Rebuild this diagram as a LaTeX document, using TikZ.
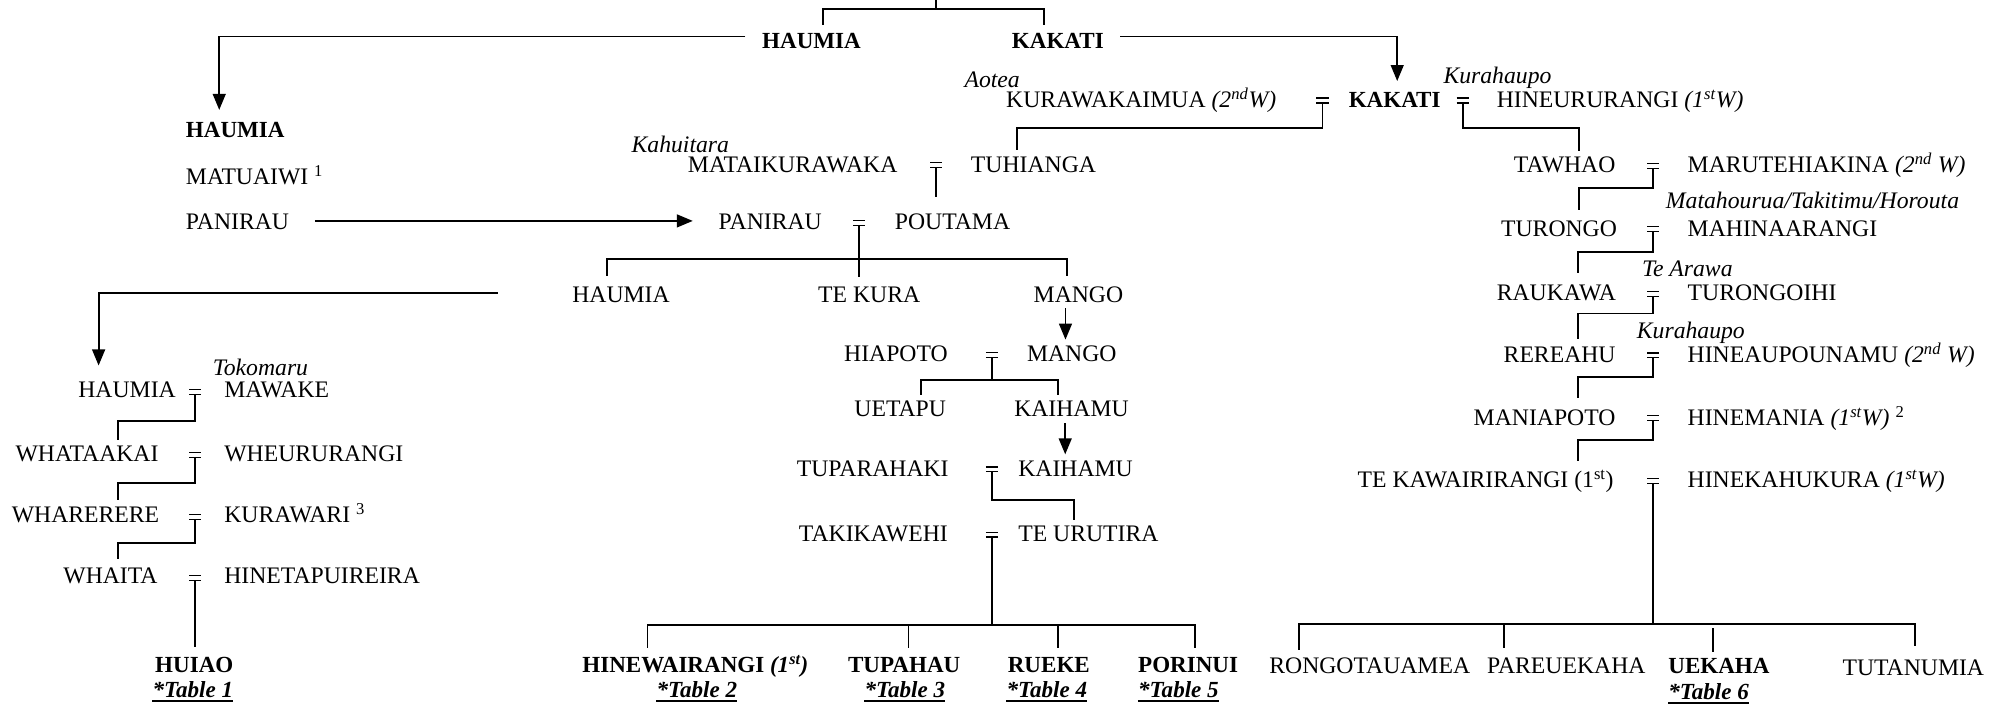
\documentclass[tikz,border=0pt]{standalone}
\usepackage{fontspec}
\setmainfont{Liberation Serif}
\usetikzlibrary{arrows.meta,calc}
\newcommand{\fs}{\fontsize{18.5}{18.5}\selectfont}
\newcommand{\fb}{\fontsize{18}{18}\selectfont}
\newcommand{\eqbar}[1]{\draw[line width=1pt] (#1.north west) -- (#1.north east) (#1.south west) -- (#1.south east);}
\newcommand{\ulin}[1]{\draw[line width=1.6pt] ([yshift=-2.5pt]#1.south west) -- ([yshift=-2.5pt]#1.south east);}
\begin{document}
\begin{tikzpicture}[x=1pt,y=-1pt,
  nm/.style={font=\fs, inner xsep=0pt, inner ysep=0pt, text height=12pt, text depth=0pt, anchor=west},
  bnm/.style={nm, font=\fb\bfseries},
  inm/.style={nm, font=\fs\itshape},
  tbl/.style={nm, font=\fb\bfseries\itshape},
  ln/.style={line width=1.5pt},
  arr/.style={line width=1.5pt, -{Triangle[length=12.5pt,width=10pt]}},
  eqs/.style={inner sep=0pt, minimum width=9pt, minimum height=3.4pt, text height=0pt, text depth=0pt}]
\useasboundingbox (0,0) rectangle (1568,550);
% ---------- top ----------
\node[bnm] (hT) at (595,31.5) {HAUMIA};
\node[bnm] (kT) at (790,31.5) {KAKATI};
\coordinate (tp) at (731,0);
% ---------- left column ----------
\node[bnm] (hL) at (145,101) {HAUMIA};
\node[nm] (matu) at (145,138) {MATUAIWI \textsuperscript{1}};
\node[nm] (panL) at (145,173.5) {PANIRAU};
% ---------- Kakati row ----------
\node[inm] (aotea) at (753,62.5) {Aotea};
\node[nm] (kura) at (785.5,78) {KURAWAKAIMUA \textit{(2\textsuperscript{nd}W)}};
\node[eqs] (e1) at (1032.7,78.5) {};
\node[bnm] (k2) at (1053,78) {KAKATI};
\node[eqs] (e2) at (1142.2,78.5) {};
\node[inm] (kurah1) at (1127,59.5) {Kurahaupo};
\node[nm] (hineu) at (1168.6,78) {HINEURURANGI \textit{(1\textsuperscript{st}W)}};
% ---------- middle ----------
\node[inm] (kahu) at (493,113) {Kahuitara};
\node[nm] (mata) at (537,128.7) {MATAIKURAWAKA};
\node[eqs] (e3) at (731,129) {};
\node[nm] (tuh) at (758,128.7) {TUHIANGA};
\node[nm] (panM) at (561,173.5) {PANIRAU};
\node[eqs] (e4) at (671,174) {};
\node[nm] (pout) at (698.6,173.5) {POUTAMA};
\node[nm] (hM) at (446.7,230.4) {HAUMIA};
\node[nm] (tekura) at (638.7,230.4) {TE KURA};
\node[nm] (mangoA) at (807,230.4) {MANGO};
\coordinate (lstart) at (388.5,229);
\node[nm] (hiap) at (659,276.4) {HIAPOTO};
\node[eqs] (e5) at (774.6,277) {};
\node[nm] (mangoB) at (801.8,276.4) {MANGO};
\node[nm] (uet) at (667,319.4) {UETAPU};
\node[nm] (kaiA) at (791.8,319.4) {KAIHAMU};
\node[nm] (tup) at (622,366) {TUPARAHAKI};
\node[eqs] (e6) at (774.6,366.5) {};
\node[nm] (kaiB) at (795,366) {KAIHAMU};
\node[nm] (taki) at (623.7,417) {TAKIKAWEHI};
\node[eqs] (e7) at (774.6,417.5) {};
\node[nm] (teur) at (795,417) {TE URUTIRA};
\node[bnm] (hw) at (454.6,519.3) {HINEWAIRANGI \textit{(1\textsuperscript{st})}};
\node[tbl] (t2) at (512.5,539) {*Table 2};
\node[bnm] (tupahau) at (662,519.3) {TUPAHAU};
\node[tbl] (t3) at (675,539) {*Table 3};
\node[bnm] (rueke) at (786.8,519.3) {RUEKE};
\node[tbl] (t4) at (785.8,539) {*Table 4};
\node[bnm] (porinui) at (888.6,519.3) {PORINUI};
\node[tbl] (t5) at (888.6,539) {*Table 5};
% ---------- lower left ----------
\node[inm] (toko) at (166,287.6) {Tokomaru};
\node[nm] (hLL) at (61,304.6) {HAUMIA};
\node[eqs] (e8) at (152.4,306) {};
\node[nm] (mawake) at (175,304.6) {MAWAKE};
\node[nm] (whataa) at (12,354) {WHATAAKAI};
\node[eqs] (e9) at (152.4,355.5) {};
\node[nm] (wheu) at (175,354) {WHEURURANGI};
\node[nm] (whare) at (9,402) {WHARERERE};
\node[eqs] (e10) at (152.4,403.5) {};
\node[nm] (kurawari) at (175,402) {KURAWARI \textsuperscript{3}};
\node[nm] (whaita) at (49.3,450) {WHAITA};
\node[eqs] (e11) at (152.4,451.5) {};
\node[nm] (hinet) at (175,450) {HINETAPUIREIRA};
\node[bnm] (huiao) at (121,519.3) {HUIAO};
\node[tbl] (t1) at (119,539) {*Table 1};
% ---------- right ----------
\node[nm] (taw) at (1182,129) {TAWHAO};
\node[eqs] (e12) at (1291,129.5) {};
\node[nm] (maru) at (1317.7,129) {MARUTEHIAKINA \textit{(2\textsuperscript{nd} W)}};
\node[inm] (mata2) at (1300.7,157) {Matahourua/Takitimu/Horouta};
\node[nm] (turongo) at (1172,178.5) {TURONGO};
\node[eqs] (e13) at (1291,179) {};
\node[nm] (mahin) at (1317.7,178.5) {MAHINAARANGI};
\node[inm] (tearawa) at (1282,210) {Te Arawa};
\node[nm] (raukawa) at (1168.6,229) {RAUKAWA};
\node[eqs] (e14) at (1291,229.5) {};
\node[nm] (turoi) at (1317.7,229) {TURONGOIHI};
\node[inm] (kurah2) at (1278,258) {Kurahaupo};
\node[nm] (rereahu) at (1174,277) {REREAHU};
\node[eqs] (e15) at (1291,277.5) {};
\node[nm] (hineau) at (1317.7,277) {HINEAUPOUNAMU \textit{(2\textsuperscript{nd} W)}};
\node[nm] (mania) at (1150.6,326) {MANIAPOTO};
\node[eqs] (e16) at (1291,326.5) {};
\node[nm] (hinem) at (1317.7,326) {HINEMANIA \textit{(1\textsuperscript{st}W)} \textsuperscript{2}};
\node[nm] (tekaw) at (1060,375) {TE KAWAIRIRANGI (1\textsuperscript{st})};
\node[eqs] (e17) at (1291,375.5) {};
\node[nm] (hinek) at (1317.7,375) {HINEKAHUKURA \textit{(1\textsuperscript{st}W)}};
\node[nm] (rongo) at (991,520) {RONGOTAUAMEA};
\node[nm] (pareu) at (1161,520) {PAREUEKAHA};
\node[bnm] (uekaha) at (1302.6,520) {UEKAHA};
\node[tbl] (t6) at (1302.6,540) {*Table 6};
\node[nm] (tutan) at (1438.6,521.8) {TUTANUMIA};
% ---------- marriage signs & underlines ----------
\foreach \i in {1,...,17} {\eqbar{e\i}}
\foreach \t in {t1,t2,t3,t4,t5,t6} {\ulin{\t}}
% ---------- connectors ----------
\draw[ln] (tp) -- ++(0,7) coordinate (tpb);
\draw[ln] ($(hT.north)+(9,-6)$) |- (tpb) -| ($(kT.north)+(-11,-6)$);
\draw[arr] ($(hT.west)+(-13,-3)$) -| ($(hL.north)+(-12.5,-9)$);
\draw[arr] ($(kT.east)+(12.5,-3)$) -| ($(k2.north)+(2,-8.5)$);
\draw[ln] (e1.south) -- ++(0,19.5) -| ($(tuh.north west)+(36,-5)$);
\draw[ln] (e2.south) -- ++(0,19.5) -| ($(taw.north west)+(51,-5)$);
\draw[ln] (e3.south) -- ++(0,23);
\draw[arr] ($(panL.east)+(20,-1)$) -- ($(panM.west)+(-20,-1)$);
\draw[ln] (e4.south) -- ++(0,26) coordinate (b1) -- ++(0,14.5);
\draw[ln] ($(hM.north west)+(27,-9)$) |- (b1) -| ($(mangoA.north west)+(26,-9)$);
\draw[arr] (lstart) -| ($(hLL.north west)+(16,-13)$);
\coordinate (m1) at ($(mangoA.south west)+(25,4)$);
\draw[arr, shorten >=5pt] (m1) -- (m1 |- mangoB.north);
\draw[ln] (e5.south) -- ++(0,17.5) coordinate (b2);
\draw[ln] ($(uet.north west)+(52,-5)$) |- (b2) -| ($(kaiA.north west)+(34,-5)$);
\coordinate (k1) at ($(kaiA.south west)+(40,5)$);
\draw[arr, shorten >=5pt] (k1) -- (k1 |- kaiB.north);
\draw[ln] (e6.south) -- ++(0,22) -| ($(teur.north west)+(44,-5)$);
\draw[ln] (e7.south) -- ++(0,68.8) coordinate (b4);
\draw[ln] ($(hw.north west)+(51,-7.3)$) |- (b4) -| ($(porinui.north west)+(44.4,-7.3)$);
\draw[ln] ($(tupahau.north west)+(47.4,-7.3)$) |- (b4);
\draw[ln] ($(rueke.north west)+(39.2,-7.3)$) |- (b4);
\draw[ln] (e8.south) -- ++(0,20.7) -| ($(whataa.north west)+(80,-4.5)$);
\draw[ln] (e9.south) -- ++(0,19.7) -| ($(whare.north west)+(83,-5.5)$);
\draw[ln] (e10.south) -- ++(0,18.7) -| ($(whaita.north west)+(42.7,-7)$);
\draw[ln] (e11.south) -- ++(0,51.8);
\draw[ln] (e12.south) -- ++(0,15.3) -| ($(turongo.north west)+(60.8,-8.5)$);
\draw[ln] (e13.south) -- ++(0,15.7) -| ($(raukawa.north west)+(63.4,-10)$);
\draw[ln] (e14.south) -- ++(0,13.4) -| ($(rereahu.north west)+(58,-6)$);
\draw[ln] (e15.south) -- ++(0,14.7) -| ($(mania.north west)+(81.4,-9)$);
\draw[ln] (e16.south) -- ++(0,15.3) -| ($(tekaw.north west)+(172,-8.5)$);
\draw[ln] (e17.south) -- ++(0,109.5) coordinate (b5);
\draw[ln] ($(rongo.north west)+(23,-6.4)$) |- (b5) -| ($(tutan.north west)+(56.4,-11.3)$);
\draw[ln] ($(pareu.north west)+(13.3,-8)$) |- (b5);
\draw[ln] ($(uekaha.north west)+(34.8,-5)$) -- ++(0,-18.4);
\end{tikzpicture}
\end{document}
